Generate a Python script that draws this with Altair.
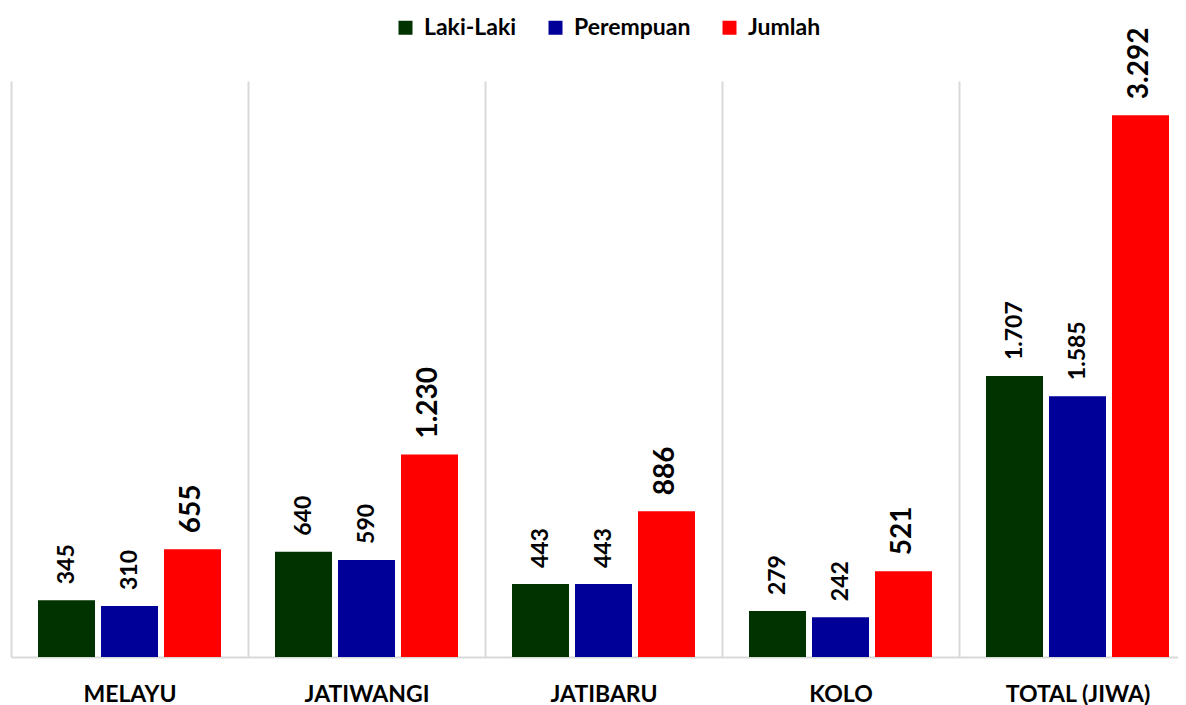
import altair as alt
import pandas as pd

categories = ["MELAYU", "JATIWANGI", "JATIBARU", "KOLO", "TOTAL (JIWA)"]
series = ["Laki-Laki", "Perempuan", "Jumlah"]
laki = [345, 640, 443, 279, 1707]
perempuan = [310, 590, 443, 242, 1585]
jumlah = [655, 1230, 886, 521, 3292]
colors = ["#003300", "#000099", "#FF0000"]

rows = []
for s, vals in zip(series, [laki, perempuan, jumlah]):
    for c, v in zip(categories, vals):
        rows.append({"kategori": c, "jenis": s, "nilai": v,
                     "label": f"{v:,}".replace(",", ".")})
df = pd.DataFrame(rows)

FONT = "Lato"

x = alt.X(
    "kategori:N", sort=categories,
    scale=alt.Scale(paddingInner=0, paddingOuter=0, range=[0, 1185]),
    axis=alt.Axis(title=None, labelAngle=0, labelFont=FONT, labelFontWeight="bold",
                  labelFontSize=23, labelColor="black", labelPadding=37,
                  labelBaseline="middle", ticks=False, tickSize=0, tickBand="extent",
                  grid=True, gridColor="#d9d9d9", gridWidth=2,
                  domainColor="#d9d9d9", domainWidth=2),
)
xo = alt.XOffset("jenis:N", sort=series,
                 scale=alt.Scale(paddingInner=0.095, paddingOuter=0.4286))
y = alt.Y("nilai:Q", scale=alt.Scale(domain=[0, 3500], nice=False), axis=None)

bars = alt.Chart(df).mark_bar().encode(
    x=x, xOffset=xo, y=y,
    color=alt.Color("jenis:N", sort=series,
                    scale=alt.Scale(domain=series, range=colors),
                    legend=alt.Legend(title=None, orient="none", direction="horizontal",
                                      legendX=383, legendY=-65, symbolType="square",
                                      symbolSize=196, symbolStrokeWidth=0,
                                      symbolOpacity=1,
                                      labelFont=FONT, labelFontWeight="bold",
                                      labelFontSize=23, labelColor="black",
                                      columnPadding=27, labelOffset=7)),
)

text = alt.Chart(df).mark_text(
    angle=270, align="left", baseline="middle", dx=16,
    font=FONT, fontWeight="bold", color="black",
).encode(
    x=x, xOffset=xo, y=y, text="label:N",
    size=alt.condition("datum.jenis == 'Jumlah'", alt.value(28), alt.value(23)),
)

chart = alt.layer(bars, text).properties(
    width=1167, height=576,
    padding={"left": 3, "top": 73, "right": 0, "bottom": 48},
    autosize=alt.AutoSizeParams(type="none"),
).configure_view(stroke=None)

chart.save("out.html", embed_options={"renderer": "svg", "actions": False})
